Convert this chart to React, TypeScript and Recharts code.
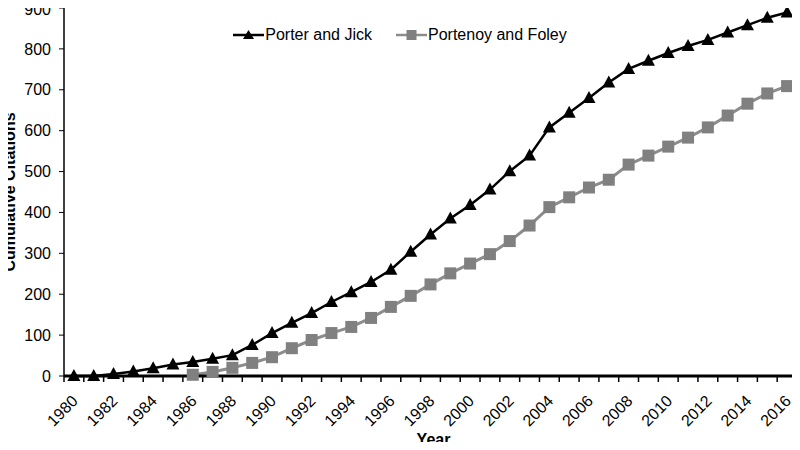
import { LineChart, Line, XAxis, YAxis, Legend } from 'recharts';

const years = [
  1980, 1981, 1982, 1983, 1984, 1985, 1986, 1987, 1988, 1989,
  1990, 1991, 1992, 1993, 1994, 1995, 1996, 1997, 1998, 1999,
  2000, 2001, 2002, 2003, 2004, 2005, 2006, 2007, 2008, 2009,
  2010, 2011, 2012, 2013, 2014, 2015, 2016,
];
const porterJick = [
  0, 0, 5, 11, 19, 28, 34, 42, 51, 76,
  105, 130, 154, 181, 205, 230, 260, 304, 346, 385,
  418, 456, 501, 539, 608, 644, 680, 718, 751, 771,
  790, 807, 822, 840, 858, 876, 889,
];
const portenoyFoley = [
  null, null, null, null, null, null, 3, 10, 20, 32,
  46, 68, 88, 105, 120, 142, 169, 196, 224, 251,
  275, 298, 330, 368, 413, 437, 461, 480, 517, 539,
  561, 583, 608, 637, 666, 691, 709,
];
const yTicks = [0, 100, 200, 300, 400, 500, 600, 700, 800, 900];
const labelYears = years.filter((y) => y % 2 === 0);

const data = years.map((year, i) => ({
  year,
  porter: porterJick[i],
  portenoy: portenoyFoley[i],
}));

// tick marks sit between the years, labels on even years
const xTicks = [...years.map((y) => y - 0.5), years[years.length - 1] + 0.5, ...labelYears];

const font = '"Liberation Sans", Arial, sans-serif';
const grayLine = '#8c8c8c';
const grayDot = '#808080';

const Triangle = (props: any) => {
  const { cx, cy, index } = props;
  if (cx == null || cy == null) return <g key={`t${index}`} />;
  return (
    <polygon
      key={`t${index}`}
      points={`${cx},${cy - 7} ${cx - 6.5},${cy + 5} ${cx + 6.5},${cy + 5}`}
      fill="#000"
    />
  );
};

const Square = (props: any) => {
  const { cx, cy, index, value } = props;
  if (cx == null || cy == null || value == null) return <g key={`s${index}`} />;
  return <rect key={`s${index}`} x={cx - 6} y={cy - 6} width={12} height={12} fill={grayDot} />;
};

const XTick = (props: any) => {
  const { x, y, payload } = props;
  const v = payload.value;
  if (!Number.isInteger(v)) {
    return <line x1={x} y1={y} x2={x} y2={y + 6} stroke="#000" strokeWidth={1.5} />;
  }
  const ax = x + 5;
  const ay = y + 26;
  return (
    <text
      x={ax}
      y={ay}
      textAnchor="end"
      transform={`rotate(-45, ${ax}, ${ay})`}
      fontSize={16}
      fontFamily={font}
      fill="#000"
    >
      {v}
    </text>
  );
};

const renderLegend = () => (
  <div style={{ display: 'flex', justifyContent: 'center', fontFamily: font, fontSize: 16, color: '#000' }}>
    <div style={{ display: 'flex', alignItems: 'center', marginRight: 24 }}>
      <svg width={31} height={14} style={{ marginRight: 1 }}>
        <line x1={0} y1={7} x2={31} y2={7} stroke="#000" strokeWidth={2.5} />
        <polygon points="15.5,2 10,11 21,11" fill="#000" />
      </svg>
      <span>Porter and Jick</span>
    </div>
    <div style={{ display: 'flex', alignItems: 'center' }}>
      <svg width={31} height={14} style={{ marginRight: 1 }}>
        <line x1={0} y1={7} x2={31} y2={7} stroke={grayLine} strokeWidth={2.5} />
        <rect x={10.5} y={2} width={10} height={10} fill={grayDot} />
      </svg>
      <span>Portenoy and Foley</span>
    </div>
  </div>
);

const YLabel = (props: any) => {
  const { viewBox } = props;
  const cy = viewBox.y + viewBox.height / 2;
  return (
    <text
      x={15}
      y={cy}
      textAnchor="middle"
      transform={`rotate(-90, 15, ${cy})`}
      fontSize={16}
      fontWeight="bold"
      fontFamily={font}
      fill="#000"
    >
      Cumulative Citations
    </text>
  );
};

const XLabel = (props: any) => {
  const { viewBox } = props;
  const cx = viewBox.x + viewBox.width / 2;
  return (
    <text x={cx + 3} y={445} textAnchor="middle" fontSize={16} fontWeight="bold" fontFamily={font} fill="#000">
      Year
    </text>
  );
};

export default function App() {
  return (
    <div style={{ margin: -8, background: '#fff', width: 800, height: 450 }}>
      <LineChart width={800} height={450} data={data} margin={{ top: 8, right: 3, bottom: 0, left: 0 }}>
        <XAxis
          dataKey="year"
          type="number"
          domain={[1979.5, 2016.5]}
          ticks={xTicks}
          interval={0}
          tickSize={0}
          tickMargin={0}
          tickLine={false}
          tick={<XTick />}
          axisLine={{ stroke: '#000', strokeWidth: 3 }}
          height={74}
          label={<XLabel />}
        />
        <YAxis
          domain={[0, 900]}
          ticks={yTicks}
          width={64}
          tickSize={5}
          tickMargin={8}
          tickLine={{ stroke: '#000', strokeWidth: 1 }}
          axisLine={{ stroke: '#000', strokeWidth: 1.5 }}
          tick={{ fontSize: 16, fontFamily: font, fill: '#000' }}
          label={<YLabel />}
        />
        <Legend
          layout="horizontal"
          verticalAlign="middle"
          align="center"
          wrapperStyle={{ top: 26, left: 0, width: 800 }}
          content={renderLegend}
        />
        <Line
          dataKey="porter"
          name="Porter and Jick"
          stroke="#000"
          strokeWidth={2.5}
          dot={Triangle}
          activeDot={false}
          isAnimationActive={false}
        />
        <Line
          dataKey="portenoy"
          name="Portenoy and Foley"
          stroke={grayLine}
          strokeWidth={3}
          dot={Square}
          activeDot={false}
          isAnimationActive={false}
        />
      </LineChart>
    </div>
  );
}
